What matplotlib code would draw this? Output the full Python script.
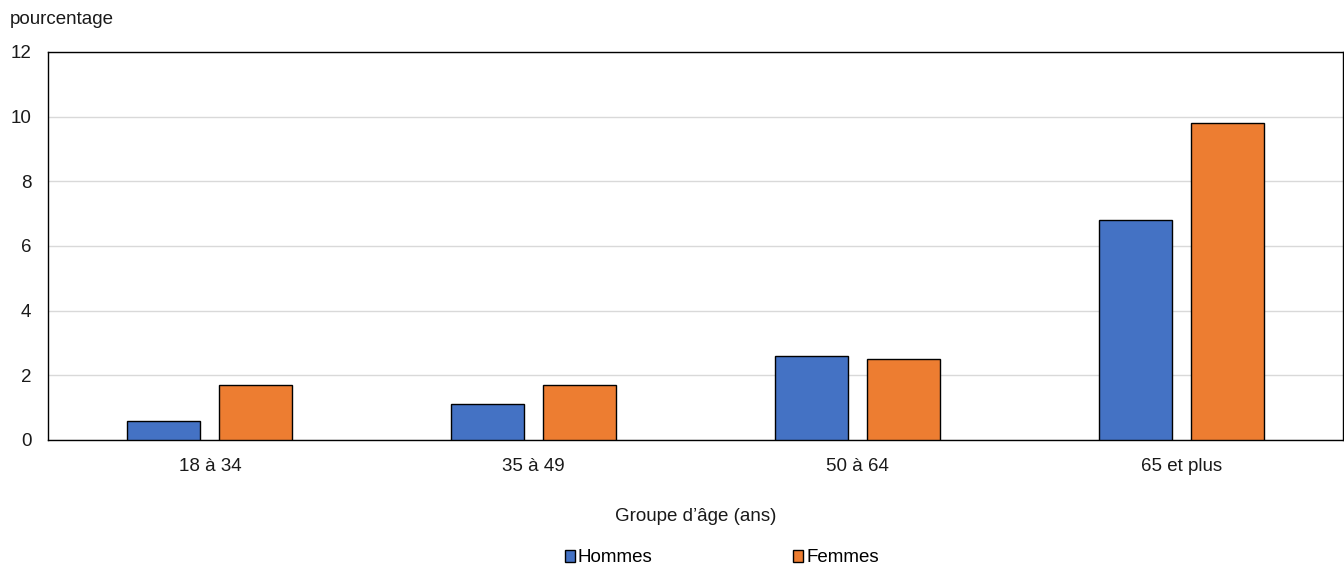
import numpy as np
import matplotlib
matplotlib.use('Agg')
import matplotlib.pyplot as plt
from matplotlib.patches import Patch

plt.rcParams['font.family'] = ['Liberation Sans', 'DejaVu Sans']

categories = ['18 à 34', '35 à 49', '50 à 64', '65 et plus']
hommes = [0.6, 1.1, 2.6, 6.8]
femmes = [1.7, 1.7, 2.5, 9.8]
yticks = [0, 2, 4, 6, 8, 10, 12]

blue = '#4472C4'
orange = '#ED7D31'
fs = 13.5

fig = plt.figure(figsize=(13.44, 5.69), dpi=100)
ax = fig.add_axes([48/1344, 1-440/569, 1295/1344, 388/569])

x = np.arange(len(categories))
w = 0.226
ax.bar(x - 0.142, hommes, w, color=blue, edgecolor='black', linewidth=1, zorder=3)
ax.bar(x + 0.142, femmes, w, color=orange, edgecolor='black', linewidth=1, zorder=3)

ax.set_xlim(-0.5, 3.5)
ax.set_ylim(0, 12)
ax.set_yticks(yticks)
ax.set_xticks(x)
ax.set_xticklabels(categories)
ax.tick_params(axis='both', length=0, labelsize=fs, colors='#1a1a1a')
ax.tick_params(axis='x', pad=13)
ax.tick_params(axis='y', pad=12)
ax.grid(axis='y', color='#D9D9D9', linewidth=1, zorder=0)
for s in ax.spines.values():
    s.set_color('black')
    s.set_linewidth(1)

ax.set_xlabel("Groupe d’âge (ans)", fontsize=fs, labelpad=24, color='#1a1a1a')
fig.text(10/1344, 1-19/569, 'pourcentage', fontsize=fs, va='center', ha='left', color='#1a1a1a')

handles = [Patch(facecolor=blue, edgecolor='black', label='Hommes'),
           Patch(facecolor=orange, edgecolor='black', label='Femmes')]
fig.legend(handles=handles, loc='center', bbox_to_anchor=(0.537, 1-558/569), ncol=2,
           frameon=False, fontsize=fs, handlelength=0.55, handleheight=0.55,
           handletextpad=0.15, columnspacing=7.5)

fig.savefig('out.png', dpi=100)
